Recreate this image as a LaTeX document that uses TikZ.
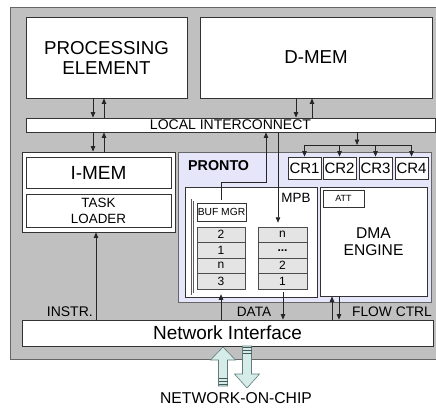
\documentclass[tikz,border=0pt]{standalone}
\usepackage{fontspec}
\setmainfont{Liberation Sans}
\usetikzlibrary{arrows.meta}
\definecolor{bggray}{HTML}{C0C0C0}
\definecolor{lav}{HTML}{E6E6FA}
\definecolor{cellg}{HTML}{E4E4E4}
\definecolor{nocfill}{HTML}{D5ECE9}
\definecolor{nocline}{HTML}{5E7E7C}
\begin{document}
\begin{tikzpicture}[x=1pt,y=-1pt,
  box/.style={draw=black!80, fill=white, line width=0.8pt, inner sep=0pt, align=center},
  cellbox/.style={draw=black!70, fill=cellg, line width=0.6pt, inner sep=0pt, minimum height=15.5pt, font=\fontsize{12}{12}\selectfont},
  arr/.style={line width=0.7pt, draw=black!85, -{Triangle[length=5.5pt,width=4.5pt]}},
  ln/.style={line width=0.7pt, draw=black!85},
  dbl/.style={draw=black!65, double=white, double distance=1.2pt, line width=0.5pt, inner sep=0pt},
  lbl/.style={inner sep=0pt, font=\fontsize{14}{14}\selectfont},
  noc/.style={draw=nocline, fill=nocfill, line width=0.6pt},
]
\useasboundingbox (0,0) rectangle (436,410);
% background chip
\fill[bggray] (10,7) rectangle (437,359);
\draw[line width=0.8pt, draw=black!60] (437,7) -- (10,7) -- (10,359) -- (437,359);

% top blocks
\node[box, minimum width=161pt, minimum height=81pt, font=\fontsize{18.7}{20}\selectfont] (PE) at (106.5,57.5) {PROCESSING\\ELEMENT};
\node[box, minimum width=232pt, minimum height=81pt, font=\fontsize{18.7}{20}\selectfont] (DM) at (316,57.5) {D-MEM};
\node[box, minimum width=409pt, minimum height=14pt, font=\fontsize{14}{14}\selectfont] (LI) at (230.5,125) {LOCAL INTERCONNECT};

% I-MEM group
\node[box, minimum width=153pt, minimum height=80pt] (IMO) at (98.5,192) {};
\node[box, minimum width=145pt, minimum height=31pt, font=\fontsize{19}{19}\selectfont] (IM) at (98.5,172.5) {I-MEM};
\node[box, minimum width=145pt, minimum height=33pt, font=\fontsize{13.4}{16}\selectfont] (TL) at (98.5,210.5) {TASK\\LOADER};

% PRONTO
\node[draw=black!60, fill=lav, line width=0.8pt, minimum width=253pt, minimum height=150pt, inner sep=0pt] (PR) at (304.5,227) {};
\node[anchor=west, inner sep=0pt, font=\bfseries\fontsize{14.3}{14}\selectfont] (PRl) at (188,166) {PRONTO};

% MPB container
\node[box, minimum width=132pt, minimum height=110pt] (MPBc) at (251,242) {};
\node[lbl, font=\fontsize{13.4}{13}\selectfont] (MPBl) at (296,198) {MPB};

% buffer manager column
\node[dbl, minimum width=56.5pt, minimum height=94pt] (BUF) at (220.75,247) {};
\node[box, line width=0.6pt, minimum width=49pt, minimum height=18pt, font=\fontsize{10.3}{10}\selectfont] (BM) at (221.5,212) {BUF MGR};
\node[cellbox, minimum width=48pt] (L1) at (221,234.75) {2};
\node[cellbox, minimum width=48pt] (L2) at (221,250.25) {1};
\node[cellbox, minimum width=48pt] (L3) at (221,265.75) {n};
\node[cellbox, minimum width=48pt] (L4) at (221,281.25) {3};

% right MPB column
\node[dbl, minimum width=55pt, minimum height=69pt] (RC) at (281.5,257.5) {};
\node[cellbox, minimum width=49pt] (R1) at (282.5,234.75) {n};
\node[cellbox, minimum width=49pt] (R2) at (282.5,250.25) {\textbf{...}};
\node[cellbox, minimum width=49pt] (R3) at (282.5,265.75) {2};
\node[cellbox, minimum width=49pt] (R4) at (282.5,281.25) {1};

% DMA engine
\node[box, minimum width=107pt, minimum height=109pt, font=\fontsize{15.6}{16.5}\selectfont] (DMA) at (373.5,241.5) {DMA\\ENGINE};
\node[box, line width=0.6pt, minimum width=41pt, minimum height=17pt, font=\fontsize{9}{9}\selectfont] (ATT) at (343.5,198.5) {ATT};

% control registers
\node[box, minimum width=33pt, minimum height=22pt, font=\fontsize{15}{15}\selectfont] (CR1) at (304.5,168) {CR1};
\node[box, minimum width=33pt, minimum height=22pt, font=\fontsize{15}{15}\selectfont] (CR2) at (339.5,168) {CR2};
\node[box, minimum width=33pt, minimum height=22pt, font=\fontsize{15}{15}\selectfont] (CR3) at (375.5,168) {CR3};
\node[box, minimum width=33pt, minimum height=22pt, font=\fontsize{15}{15}\selectfont] (CR4) at (411.5,168) {CR4};

% network interface
\node[box, minimum width=411pt, minimum height=26pt, font=\fontsize{19}{19}\selectfont] (NI) at (227.5,333) {Network Interface};

% helper coordinates
\coordinate (xa) at (93,0);
\coordinate (xb) at (104,0);
\coordinate (xc) at (296,0);
\coordinate (xd) at (312,0);
\coordinate (xe) at (266,0);
\coordinate (xf) at (278,0);
\coordinate (xg) at (357,0);
\coordinate (xh) at (96,0);
\coordinate (xi) at (221,0);
\coordinate (xj) at (283,0);
\coordinate (xk) at (332,0);
\coordinate (xl) at (339,0);
\coordinate (bus) at (0,145);
\coordinate (turn) at (0,182);

% connectors
\draw[arr] (xa |- PE.south) -- (xa |- LI.north);
\draw[arr] (xb |- LI.north) -- (xb |- PE.south);
\draw[arr] (xa |- LI.south) -- (xa |- IMO.north);
\draw[arr] (xb |- IMO.north) -- (xb |- LI.south);
\draw[arr] (xc |- DM.south) -- (xc |- LI.north);
\draw[arr] (xd |- LI.north) -- (xd |- DM.south);
\draw[arr] (xi |- BUF.north) -- (xi |- turn) -- (xe |- turn) -- (xe |- LI.south);
\draw[arr] (xf |- LI.south) -- (xf |- RC.north);
\draw[arr] (xg |- LI.south) -- (xg |- bus);
\draw[ln] (CR1.north |- bus) -- (CR4.north |- bus);
\foreach \c in {CR1,CR2,CR3,CR4} {\draw[arr] (\c.north |- bus) -- (\c.north);}
\draw[arr] (xh |- NI.north) -- (xh |- IMO.south);
\draw[arr] (xi |- NI.north) -- (xi |- BUF.south);
\draw[arr] (xj |- RC.south) -- (xj |- NI.north);
\draw[arr] (xk |- NI.north) -- (xk |- DMA.south);
\draw[arr] (xl |- DMA.south) -- (xl |- NI.north);

% labels
\node[lbl, anchor=east] (INS) at (93,312) {INSTR.};
\node[lbl, font=\fontsize{13.6}{14}\selectfont] (DAT) at (254,312) {DATA};
\node[lbl, font=\fontsize{13.8}{14}\selectfont] (FC) at (392,312) {FLOW CTRL};

% network-on-chip arrows
\draw[noc] (218.5,386) -- (218.5,360) -- (210.5,360) -- (223,347) -- (235.5,360) -- (227.5,360) -- (227.5,386) -- cycle;
\foreach \yy in {378.5,381.5,384.5} {\draw[nocline!70!black, line width=1pt] (218.5,\yy) -- (227.5,\yy);}
\draw[noc] (242.5,346) -- (251.5,346) -- (251.5,374) -- (259.5,374) -- (247,388) -- (234.5,374) -- (242.5,374) -- cycle;
\foreach \yy in {347.5,350.5,353.5} {\draw[nocline!70!black, line width=1pt] (242.5,\yy) -- (251.5,\yy);}
\node[inner sep=0pt, font=\fontsize{15.7}{16}\selectfont] (NOC) at (236,398) {NETWORK-ON-CHIP};
\end{tikzpicture}
\end{document}
